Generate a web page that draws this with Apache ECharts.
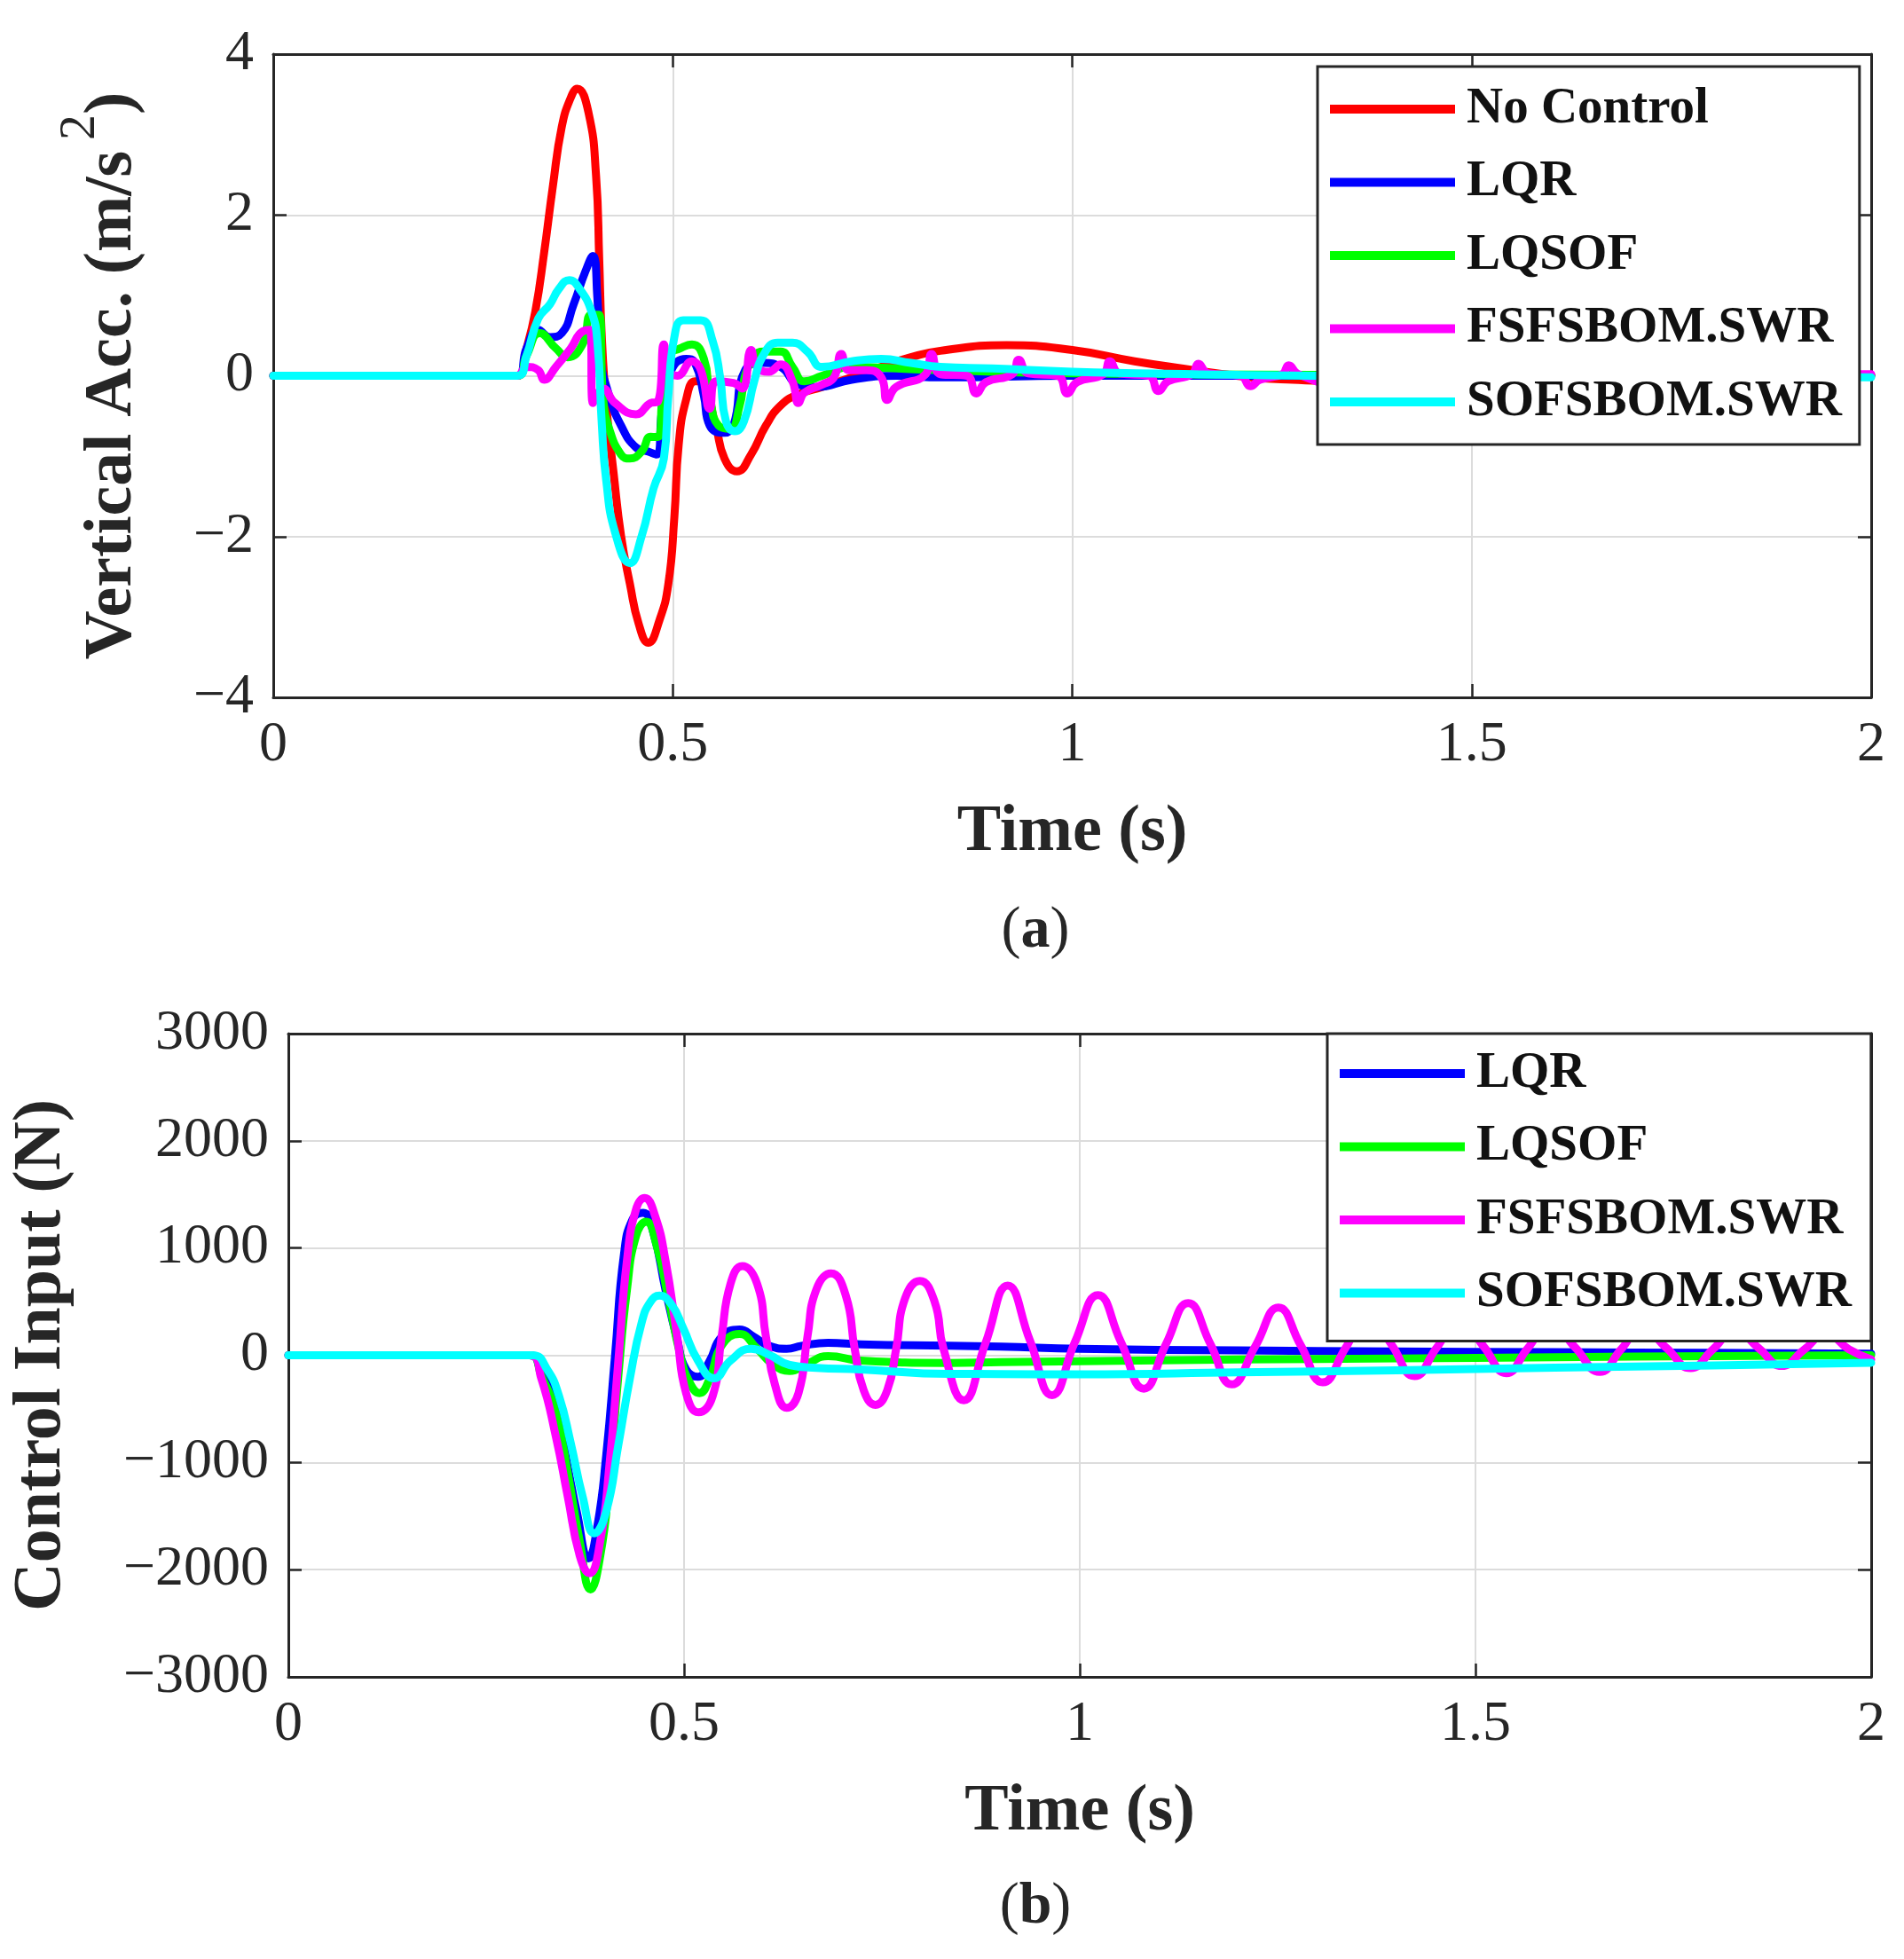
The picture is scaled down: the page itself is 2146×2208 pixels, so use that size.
<!DOCTYPE html>
<html lang="en">
<head>
    <meta charset="UTF-8">
    <title>Vertical acceleration and control input</title>
    <script src="https://cdn.jsdelivr.net/npm/echarts/dist/echarts.min.js"></script>
    <style>
        html, body { margin: 0; padding: 0; background: #fff; }
        #main { width: 2146px; height: 2208px; }
    </style>
</head>
<body>
<div id="main"></div>
<script>
    // ---- (a) vertical acceleration, [time s, m/s^2] ----
    var accNoControl = [[0,0],[0.305,0],[0.317,0.34],[0.328,0.80],[0.339,1.53],[0.350,2.36],[0.361,3.09],[0.372,3.45],[0.3805,3.57],[0.3946,3.27],
        [0.404,2.49],[0.408,1.44],[0.411,0.53],[0.417,-0.39],[0.426,-1.21],[0.4353,-1.99],[0.4464,-2.59],[0.4575,-3.09],[0.4693,-3.32],[0.4834,-3.04],
        [0.4945,-2.59],[0.502,-1.76],[0.5075,-0.85],[0.5167,-0.30],[0.5278,-0.07],[0.535,-0.07],[0.5537,-0.62],[0.5648,-1.03],[0.5804,-1.19],[0.598,-0.98],
        [0.6166,-0.62],[0.6351,-0.37],[0.6574,-0.23],[0.687,-0.14],[0.724,-0.02],[0.761,0.11],[0.798,0.23],[0.835,0.31],[0.918,0.38],[1.0,0.32],
        [1.078,0.18],[1.139,0.09],[1.215,-0.01],[1.276,-0.05],[1.35,-0.07],[1.45,-0.06],[1.6,-0.03],[1.8,0],[2.0,0.01]];
    var accLQR = [[0,0],[0.305,0],[0.317,0.34],[0.3316,0.57],[0.3464,0.48],[0.3612,0.53],[0.376,0.89],[0.3908,1.30],[0.400,1.49],[0.4056,0.98],
        [0.4093,0.25],[0.4205,-0.25],[0.4353,-0.62],[0.4538,-0.89],[0.4686,-0.94],[0.4797,-0.98],[0.4871,-0.39],[0.4982,0.07],[0.5167,0.21],[0.5278,0.16],
        [0.539,-0.25],[0.5463,-0.62],[0.5648,-0.71],[0.576,-0.62],[0.5907,0.07],[0.613,0.16],[0.6351,0.11],[0.6574,-0.11],[0.6796,-0.14],[0.724,-0.05],
        [0.78,0],[0.835,-0.02],[1.0,0],[1.3,0],[2.0,0]];
    var accLQSOF = [[0,0],[0.305,0],[0.317,0.25],[0.3335,0.53],[0.3538,0.34],[0.3686,0.23],[0.3871,0.39],[0.3982,0.76],[0.4075,0.76],[0.413,-0.30],
        [0.4205,-0.66],[0.4353,-0.98],[0.4464,-1.03],[0.4612,-0.94],[0.4723,-0.76],[0.4815,-0.76],[0.4871,-0.25],[0.4945,0.25],[0.5093,0.34],[0.5241,0.39],
        [0.539,0.21],[0.5463,-0.25],[0.5574,-0.62],[0.5722,-0.66],[0.5833,-0.39],[0.5944,0.11],[0.613,0.30],[0.6351,0.30],[0.6499,0.11],[0.6648,-0.07],
        [0.687,0],[0.724,0.11],[0.78,0.09],[0.835,0.07],[1.0,0.03],[1.3,0.01],[1.6,0],[2.0,0]];
    var accFSF = [[0,0],[0.305,0],[0.317,0.11],[0.3316,0.07],[0.339,-0.05],[0.3538,0.11],[0.3723,0.34],[0.3871,0.55],[0.3964,0.57],[0.400,-0.34],
        [0.413,-0.16],[0.4279,-0.34],[0.4538,-0.48],[0.4723,-0.34],[0.4815,-0.32],[0.4889,0.39],[0.4945,0.07],[0.5056,0],[0.5241,0.18],[0.5352,0.07],
        [0.5463,-0.41],[0.5537,-0.07],[0.576,-0.09],[0.587,-0.16],[0.598,0.32],[0.6055,0.11],[0.6203,0.05],[0.6351,0.14],[0.6499,-0.07],[0.6574,-0.34],
        [0.6648,-0.21],[0.687,-0.11],[0.7018,-0.02],[0.711,0.27],[0.7203,0.07],[0.7425,0.07],[0.761,-0.02],[0.7684,-0.30],[0.7795,-0.14],[0.8166,0.02],
        [0.8239,0.27],[0.835,0.02],[0.868,0],[0.88,-0.22],[0.892,-0.08],[0.925,0.02],[0.933,0.20],[0.945,0.03],[0.982,0],[0.994,-0.22],
        [1.006,-0.08],[1.039,0.02],[1.047,0.18],[1.059,0.03],[1.096,0],[1.108,-0.19],[1.12,-0.07],[1.15,0.02],[1.158,0.15],[1.17,0.03],
        [1.211,0],[1.223,-0.13],[1.235,-0.05],[1.263,0.02],[1.271,0.13],[1.283,0.02],[1.33,-0.10],[1.385,0.09],[1.445,-0.08],[1.5,0.07],
        [1.56,-0.06],[1.61,0.05],[1.67,-0.04],[1.72,0.04],[1.78,-0.03],[1.84,0.03],[1.9,-0.02],[1.95,0.02],[2.0,0.02]];
    var accSOF = [[0,0],[0.305,0],[0.317,0.25],[0.3316,0.71],[0.3464,0.89],[0.3575,1.08],[0.3705,1.19],[0.3834,1.08],[0.3982,0.80],[0.4056,0.43],
        [0.4112,-0.60],[0.4167,-1.30],[0.4279,-1.95],[0.4464,-2.33],[0.4612,-1.99],[0.476,-1.40],[0.4889,-1.03],[0.4945,-0.25],[0.502,0.48],[0.513,0.69],
        [0.5352,0.69],[0.55,0.43],[0.5593,-0.02],[0.5667,-0.57],[0.5778,-0.69],[0.589,-0.57],[0.602,-0.07],[0.613,0.25],[0.6314,0.41],[0.6499,0.41],
        [0.6685,0.30],[0.687,0.11],[0.724,0.18],[0.761,0.21],[0.798,0.16],[0.835,0.11],[0.9,0.09],[1.0,0.05],[1.15,0.02],[1.3,0],
        [1.6,-0.01],[2.0,-0.02]];

    // ---- (b) control input, [time s, N] ----
    var uLQR = [[0,0],[0.3046,0],[0.3195,-160],[0.3382,-490],[0.353,-1041],[0.3643,-1455],[0.3793,-1895],[0.3905,-1592],[0.4017,-931],[0.4129,5],
        [0.4241,942],[0.4353,1273],[0.4484,1328],[0.4615,1135],[0.4765,612],[0.4914,143],[0.5026,-132],[0.5176,-201],[0.5325,-50],[0.5474,171],
        [0.57,240],[0.5886,171],[0.6073,88],[0.6297,61],[0.6484,88],[0.682,116],[0.7231,102],[0.8352,88],[0.9,80],[1.0,60],
        [1.2,45],[1.4,35],[1.6,28],[1.8,22],[2.0,15]];
    var uLQSOF = [[0,0],[0.3046,0],[0.3195,-187],[0.3382,-545],[0.353,-1096],[0.3681,-1730],[0.3819,-2185],[0.3942,-1868],[0.4055,-1179],[0.4167,-215],
        [0.4279,612],[0.4391,1107],[0.4522,1245],[0.4653,1025],[0.4802,529],[0.4951,5],[0.5063,-242],[0.5194,-353],[0.5325,-215],[0.5474,88],
        [0.57,198],[0.5923,61],[0.611,-77],[0.6334,-146],[0.6559,-77],[0.682,-8],[0.7231,-50],[0.8352,-72],[0.9,-65],[1.0,-55],
        [1.2,-40],[1.4,-30],[1.6,-18],[1.8,-8],[2.0,0]];
    var uFSF = [[0,0],[0.3046,0],[0.3195,-215],[0.3382,-766],[0.353,-1317],[0.3681,-1868],[0.3804,-2033],[0.3942,-1730],[0.4055,-1041],[0.4167,-77],
        [0.4279,887],[0.4391,1355],[0.4503,1466],[0.4634,1300],[0.4765,887],[0.4914,171],[0.5026,-353],[0.5183,-532],[0.5362,-380],[0.5474,171],
        [0.5587,667],[0.5736,832],[0.5923,667],[0.6035,171],[0.6147,-270],[0.6297,-490],[0.6446,-353],[0.6559,171],[0.6671,612],[0.6857,763],
        [0.7044,556],[0.7156,61],[0.7269,-325],[0.7418,-463],[0.7568,-325],[0.768,61],[0.7792,529],[0.7979,694],[0.8165,501],[0.8278,61],
        [0.8535,-420],[0.881,115],[0.909,650],[0.937,140],[0.965,-372],[0.994,125],[1.023,561],[1.052,125],[1.081,-312],[1.109,105],
        [1.137,486],[1.165,107],[1.192,-272],[1.222,87],[1.251,445],[1.279,96],[1.307,-253],[1.336,70],[1.365,390],[1.394,98],
        [1.423,-195],[1.451,70],[1.48,340],[1.51,85],[1.539,-167],[1.566,65],[1.595,300],[1.626,72],[1.657,-155],[1.684,55],
        [1.71,260],[1.741,70],[1.772,-120],[1.80,55],[1.828,230],[1.858,65],[1.887,-100],[1.915,50],[1.943,200],[1.972,55],
        [2.0,-40]];
    var uSOF = [[0,0],[0.3083,0],[0.327,-132],[0.342,-380],[0.3569,-821],[0.3718,-1317],[0.3868,-1661],[0.4017,-1455],[0.4167,-848],[0.4316,-215],
        [0.4466,309],[0.4578,501],[0.469,556],[0.484,474],[0.4989,253],[0.5176,-50],[0.538,-215],[0.5587,-50],[0.5848,61],[0.6073,5],
        [0.6334,-91],[0.6671,-118],[0.7231,-132],[0.8352,-174],[0.9,-175],[1.0,-178],[1.2,-160],[1.4,-140],[1.6,-115],[1.8,-95],
        [2.0,-70]];

    var namesA = ['No Control', 'LQR', 'LQSOF', 'FSFSBOM.SWR', 'SOFSBOM.SWR'];
    var namesB = ['LQR', 'LQSOF', 'FSFSBOM.SWR', 'SOFSBOM.SWR'];
    var colors = {'No Control': '#ff0000', 'LQR': '#0000ff', 'LQSOF': '#00ff00', 'FSFSBOM.SWR': '#ff00ff', 'SOFSBOM.SWR': '#00ffff'};

    var FONT = 'Liberation Serif';
    var INK = '#262626';

    function minus(v) { return String(v).replace('-', '\u2212'); }

    // MATLAB-like box: ticks inside on all four sides
    function frameAxis(gi, pos, isX, min, max, step, main) {
        return {
            type: 'value', gridIndex: gi, position: pos,
            min: min, max: max, interval: step,
            axisLine: { show: true, onZero: false, lineStyle: { color: INK, width: 3 } },
            axisTick: { show: true, inside: true, length: 15, lineStyle: { color: INK, width: 2.5 } },
            axisLabel: { show: main, color: INK, fontFamily: FONT, fontSize: 64, margin: 22, formatter: minus },
            splitLine: { show: main, lineStyle: { color: '#dcdcdc', width: 2 } }
        };
    }

    function lineSeries(name, data, xi, yi) {
        return {
            name: name, type: 'line', data: data,
            xAxisIndex: xi, yAxisIndex: yi,
            showSymbol: false, symbol: 'none',
            smooth: 0.5,
            lineStyle: { color: colors[name], width: 9, join: 'round', cap: 'round' },
            itemStyle: { color: colors[name] },
            clip: true
        };
    }

    var chart = echarts.init(document.getElementById('main'), null, { renderer: 'canvas' });

    var nameFont = { fontFamily: FONT, fontWeight: 'bold', fontSize: 74, color: INK };
    var xA0 = frameAxis(0, 'bottom', true, 0, 2, 0.5, true);
    xA0.name = 'Time (s)'; xA0.nameLocation = 'middle'; xA0.nameGap = 116; xA0.nameTextStyle = nameFont;
    var xA1 = frameAxis(0, 'top', true, 0, 2, 0.5, false);
    var xB0 = frameAxis(1, 'bottom', true, 0, 2, 0.5, true);
    xB0.name = 'Time (s)'; xB0.nameLocation = 'middle'; xB0.nameGap = 116; xB0.nameTextStyle = nameFont;
    var xB1 = frameAxis(1, 'top', true, 0, 2, 0.5, false);

    var yA0 = frameAxis(0, 'left', false, -4, 4, 2, true);
    yA0.name = '{n|Vertical Acc. (m/s}{s|2}{n|)}'; yA0.nameLocation = 'middle'; yA0.nameGap = 116;
    yA0.nameTextStyle = {
        fontFamily: FONT, fontWeight: 'bold', fontSize: 76, color: INK,
        rich: {
            n: { fontFamily: FONT, fontWeight: 'bold', fontSize: 76, lineHeight: 130, color: INK },
            s: { fontFamily: FONT, fontWeight: 'normal', fontSize: 58, lineHeight: 64, verticalAlign: 'top', color: INK, padding: [0, 0, 0, 12] }
        }
    };
    var yA1 = frameAxis(0, 'right', false, -4, 4, 2, false);
    var yB0 = frameAxis(1, 'left', false, -3000, 3000, 1000, true);
    yB0.name = 'Control Input (N)'; yB0.nameLocation = 'middle'; yB0.nameGap = 240;
    yB0.nameTextStyle = { fontFamily: FONT, fontWeight: 'bold', fontSize: 76, color: INK };
    var yB1 = frameAxis(1, 'right', false, -3000, 3000, 1000, false);

    function legendBox(names, left, top, pad) {
        return {
            data: names, orient: 'vertical', left: left, top: top,
            icon: 'rect', itemWidth: 141, itemHeight: 10, itemGap: 22.5,
            padding: pad, backgroundColor: '#ffffff',
            borderColor: INK, borderWidth: 3,
            selectedMode: false,
            textStyle: { fontFamily: FONT, fontWeight: 'bold', fontSize: 57, lineHeight: 60, color: '#111111', padding: [0, 0, 0, 8] }
        };
    }

    var option = {
        animation: false,
        backgroundColor: '#ffffff',
        grid: [
            { left: 308, top: 61, width: 1801, height: 725 },
            { left: 325, top: 1165, width: 1784, height: 725 }
        ],
        xAxis: [xA0, xA1, xB0, xB1],
        yAxis: [yA0, yA1, yB0, yB1],
        legend: [
            legendBox(namesA, 1485, 75, [18, 20, 18, 14]),
            legendBox(namesB, 1496, 1165, [15, 22, 24, 14])
        ],
        graphic: [
            { type: 'text', x: 1167, y: 1050, style: { text: '{p|(}{b|a}{p|)}', align: 'center', verticalAlign: 'middle',
                rich: { p: { fontFamily: FONT, fontSize: 66, fill: INK }, b: { fontFamily: FONT, fontSize: 66, fontWeight: 'bold', fill: INK } } } },
            { type: 'text', x: 1167, y: 2150, style: { text: '{p|(}{b|b}{p|)}', align: 'center', verticalAlign: 'middle',
                rich: { p: { fontFamily: FONT, fontSize: 66, fill: INK }, b: { fontFamily: FONT, fontSize: 66, fontWeight: 'bold', fill: INK } } } }
        ],
        series: [
            lineSeries('No Control', accNoControl, 0, 0),
            lineSeries('LQR', accLQR, 0, 0),
            lineSeries('LQSOF', accLQSOF, 0, 0),
            lineSeries('FSFSBOM.SWR', accFSF, 0, 0),
            lineSeries('SOFSBOM.SWR', accSOF, 0, 0),
            lineSeries('LQR', uLQR, 2, 2),
            lineSeries('LQSOF', uLQSOF, 2, 2),
            lineSeries('FSFSBOM.SWR', uFSF, 2, 2),
            lineSeries('SOFSBOM.SWR', uSOF, 2, 2)
        ]
    };
    chart.setOption(option);
</script>
</body>
</html>
